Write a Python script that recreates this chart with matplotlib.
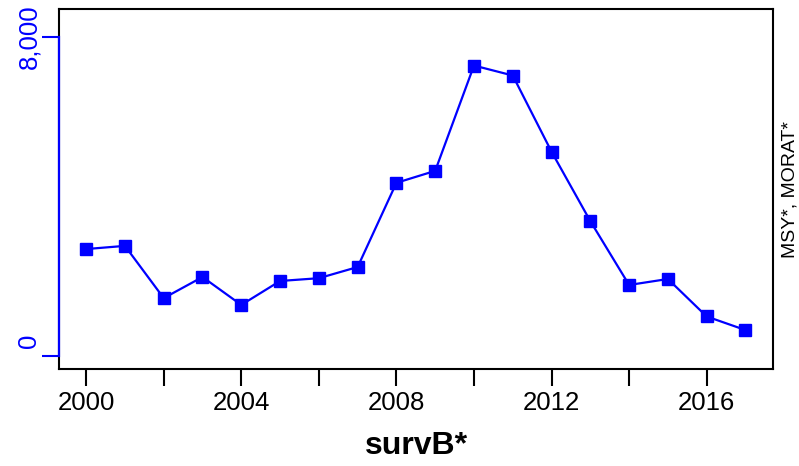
import matplotlib
matplotlib.use("Agg")
import matplotlib.pyplot as plt
import matplotlib.transforms as mtransforms

years = list(range(2000, 2018))
values = [2680, 2760, 1450, 1980, 1280, 1880, 1950, 2230, 4340, 4640,
          7280, 7030, 5120, 3380, 1780, 1930, 990, 650]
xticks = list(range(2000, 2018, 2))
xlabels = ["2000" if y == 2000 else (str(y) if (y - 2000) % 4 == 0 else "") for y in xticks]
yticks = [0, 8000]
ylabels = ["0", "8,000"]

plt.rcParams['font.family'] = ['Liberation Sans', 'DejaVu Sans']
W, H = 799, 466
fig = plt.figure(figsize=(W / 100, H / 100), dpi=100)
ax = fig.add_axes([59 / W, (H - 369) / H, (773 - 59) / W, (369 - 9) / H])

ax.plot(years, values, color='#0000ff', lw=1.6, marker='s', ms=8.2, mec='#0000ff', mfc='#0000ff')
ax.set_xlim(1999.30, 2017.71)
ax.set_ylim(-326, 8697)

for s in ax.spines.values():
    s.set_linewidth(1.5)
    s.set_color('black')

ax.set_xticks(xticks)
ax.set_xticklabels(xlabels, fontsize=18.5)
ax.tick_params(axis='x', length=12, width=1.5, pad=4, color='black')

ax.set_yticks(yticks)
ax.set_yticklabels(ylabels, fontsize=18.5, rotation=90, va='center', color='#0000ff')
ax.tick_params(axis='y', length=12, width=1.5, pad=1, color='#0000ff')
ax.plot([1999.30, 1999.30], [0, 8000], color='#0000ff', lw=1.6, clip_on=False, zorder=5)

# the "0" label sits slightly above its tick in the reference
lab0 = ax.get_yticklabels()[0]
lab0.set_transform(lab0.get_transform() + mtransforms.ScaledTranslation(0, 15 / 100, fig.dpi_scale_trans))

ax.set_xlabel("survB*", fontsize=23, fontweight='bold', labelpad=11)
fig.text(790 / W, 1 - 189 / H, "MSY*, MORAT*", rotation=90, fontsize=14, ha='center', va='center')

fig.savefig("out.png", dpi=100)
